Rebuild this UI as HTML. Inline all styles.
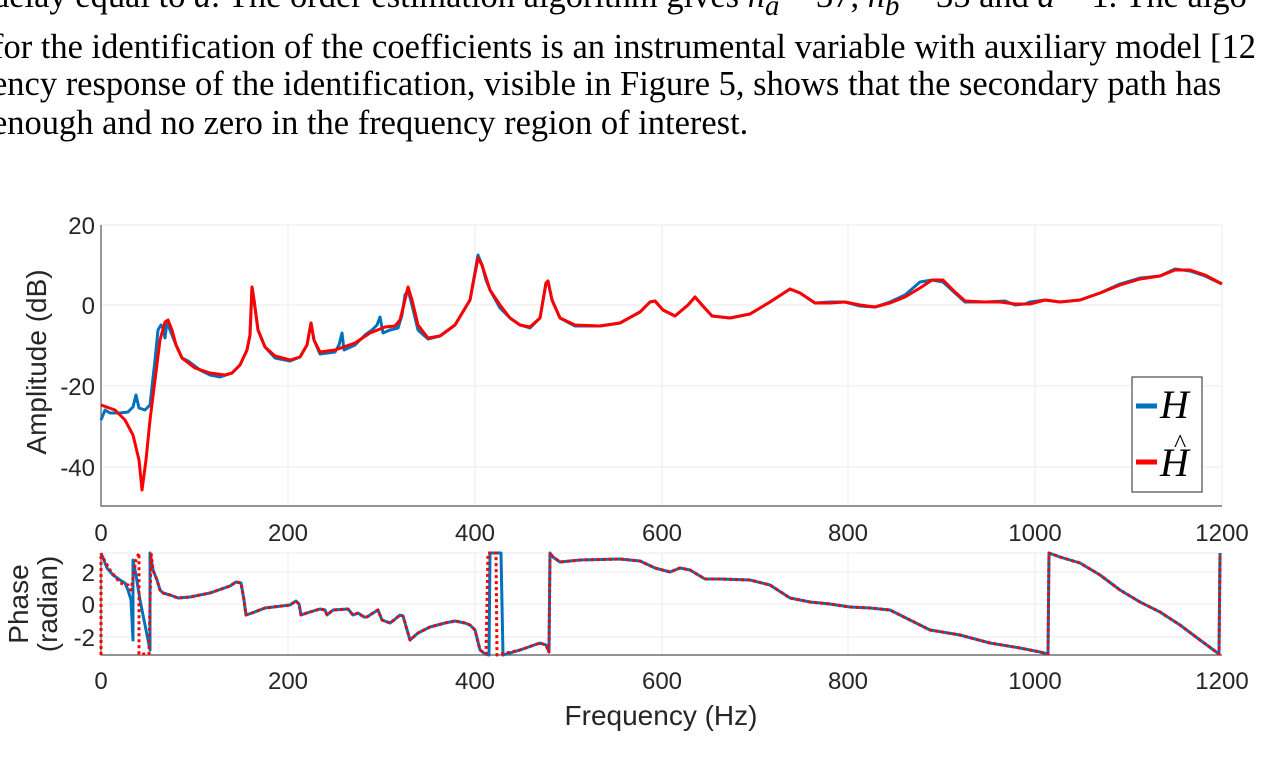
<!DOCTYPE html>
<html><head><meta charset="utf-8"><style>
html,body{margin:0;padding:0;background:#fff;width:1273px;height:757px;overflow:hidden;position:relative}
.t{position:absolute;left:-8px;font-family:"Liberation Serif",serif;font-size:35px;white-space:nowrap;color:#000;transform:scaleX(0.985);transform-origin:left}
</style></head><body>
<div class="t" style="top:-24px">delay equal to <i>d</i>. The order estimation algorithm gives <i>n<sub>a</sub></i> = 37, <i>n<sub>b</sub></i> = 35 and <i>d</i> = 1. The algo</div>
<div class="t" style="top:27px">for the identification of the coefficients is an instrumental variable with auxiliary model [12</div>
<div class="t" style="top:64px">ency response of the identification, visible in Figure 5, shows that the secondary path has</div>
<div class="t" style="top:103px">enough and no zero in the frequency region of interest.</div>
<svg width="1273" height="757" style="position:absolute;left:0;top:0" font-family="Liberation Sans, sans-serif" font-size="24" fill="#262626">
<g stroke="#ebebeb" stroke-width="1">
<line x1="101" y1="225" x2="1222" y2="225"/><line x1="101" y1="305" x2="1222" y2="305"/><line x1="101" y1="386" x2="1222" y2="386"/><line x1="101" y1="467" x2="1222" y2="467"/>
<line x1="288" y1="225" x2="288" y2="506"/><line x1="475" y1="225" x2="475" y2="506"/><line x1="662" y1="225" x2="662" y2="506"/><line x1="848" y1="225" x2="848" y2="506"/><line x1="1035" y1="225" x2="1035" y2="506"/><line x1="1222" y1="225" x2="1222" y2="506"/>
<line x1="101" y1="553" x2="1222" y2="553"/><line x1="101" y1="572" x2="1222" y2="572"/><line x1="101" y1="604" x2="1222" y2="604"/><line x1="101" y1="637" x2="1222" y2="637"/>
<line x1="288" y1="553" x2="288" y2="655"/><line x1="475" y1="553" x2="475" y2="655"/><line x1="662" y1="553" x2="662" y2="655"/><line x1="848" y1="553" x2="848" y2="655"/><line x1="1035" y1="553" x2="1035" y2="655"/><line x1="1222" y1="553" x2="1222" y2="655"/>
</g>
<g stroke="#555" stroke-width="1.2" fill="none">
<polyline points="101,225 101,506 1222,506"/>
<polyline points="101,553 101,655 1222,655"/>
</g>
<g text-anchor="end">
<text x="95" y="234">20</text><text x="95" y="314">0</text><text x="95" y="395">-20</text><text x="95" y="476">-40</text>
<text x="95" y="581">2</text><text x="95" y="613">0</text><text x="95" y="646">-2</text>
</g>
<g text-anchor="middle">
<text x="101" y="541">0</text><text x="288" y="541">200</text><text x="475" y="541">400</text><text x="662" y="541">600</text><text x="848" y="541">800</text><text x="1035" y="541">1000</text><text x="1222" y="541">1200</text>
<text x="101" y="689">0</text><text x="288" y="689">200</text><text x="475" y="689">400</text><text x="662" y="689">600</text><text x="848" y="689">800</text><text x="1035" y="689">1000</text><text x="1222" y="689">1200</text>
<text x="661" y="725" font-size="28">Frequency (Hz)</text>
<text transform="translate(46,362) rotate(-90)" font-size="28">Amplitude (dB)</text>
<text transform="translate(28,604) rotate(-90)" font-size="28">Phase</text>
<text transform="translate(57,604) rotate(-90)" font-size="28">(radian)</text>
</g>
<g fill="none" stroke-linejoin="round" stroke-width="3">
<polyline stroke="#0072bd" points="101,420 105,410 110,413 120,413 128,412 133,407 136,395 139,408 145,410 150,405 155,360 158,330 161,325 163,328 165,338 167,322 170,330 176,345 182,358 188,361 192,364 200,370 210,375 220,377 232,373 240,365 247,350 250,335 252,287 254,300 258,330 265,347 275,358 290,361 300,357 307,345 311,323 314,340 320,354 335,352 339,345 342,333 344,350 355,345 365,335 372,330 377,325 380,317 383,333 390,330 398,328 402,315 405,295 408,290 412,305 418,330 428,339 440,336 455,325 470,300 478,255 482,265 486,280 490,290 500,308 510,318 520,325 530,328 540,318 546,283 548,281 552,300 560,318 575,326 600,326 620,323 640,312 650,302 655,301 663,310 675,316 688,305 695,297 702,305 712,316 730,318 750,314 770,302 790,289 800,293 815,303 830,302 845,302 860,306 875,307 890,302 905,295 920,282 932,280 943,282 955,293 965,302 985,302 1005,301 1015,305 1025,304 1030,302 1045,300 1060,302 1080,300 1100,293 1120,284 1140,278 1160,276 1175,269 1190,271 1205,276 1222,284"/>
<polyline stroke="#ff0000" points="101,405 115,410 125,420 133,435 139,460 142,490 146,460 150,420 155,380 160,340 165,322 168,320 172,330 176,345 182,358 195,368 210,373 225,375 232,373 240,365 247,350 250,335 252,287 254,300 258,330 265,347 275,356 290,360 300,357 307,345 311,323 314,340 320,352 335,350 355,343 370,333 385,327 395,326 400,320 405,300 408,287 412,300 418,325 428,338 440,336 455,325 470,300 478,258 482,265 490,290 500,305 510,318 520,325 530,327 540,318 546,283 548,281 552,300 560,318 575,325 600,326 620,323 640,312 650,302 655,301 663,310 675,316 688,305 695,297 702,305 712,316 730,318 750,314 770,302 790,289 800,293 815,303 830,303 845,302 860,305 875,307 890,303 905,297 920,288 932,280 943,280 955,292 965,301 985,302 1000,302 1015,304 1030,304 1045,300 1060,302 1080,300 1100,293 1120,285 1140,279 1160,276 1175,270 1190,270 1205,275 1222,284"/>
<polyline stroke="#0072bd" points="101,553 107,568 113,575 120,580 125,583 128,590 131,600 133,640 133,560 136,575 140,600 145,625 150,650 150,553 153,570 157,580 160,590 163,593 170,595 178,598 190,597 210,593 230,586 236,582 241,583 244,600 246,615 252,613 265,608 290,605 296,601 299,604 301,615 310,612 320,609 325,610 327,615 333,610 348,609 353,615 358,613 364,617 367,617 373,613 378,610 382,620 390,623 394,620 400,615 403,616 410,640 418,633 430,627 445,623 455,621 465,623 470,625 475,630 480,650 485,654 489,655 490,553 494,553 501,553 503,655 520,650 540,643 546,645 549,652 550,553 553,557 560,562 580,560 620,559 640,561 655,568 670,572 680,568 690,570 705,579 720,579 750,580 770,585 790,598 810,602 830,604 850,607 870,608 890,610 910,620 930,630 960,635 990,643 1020,648 1040,652 1048,654 1049,553 1060,557 1080,563 1100,575 1120,590 1140,602 1160,612 1180,625 1200,640 1219,654 1220,553"/>
<polyline stroke="#ff0000" stroke-dasharray="3,3" points="101,655 101,553 102,556 110,570 120,583 128,585 131,590 136,560 139,553 139,654 149,654 151,553 153,570 157,580 160,590 163,593 170,595 178,598 190,597 210,593 230,586 236,582 241,583 244,600 246,615 252,613 265,608 290,605 296,601 299,604 301,615 310,612 320,609 325,610 327,615 333,610 348,609 353,615 358,613 364,617 367,617 373,613 378,610 382,620 390,623 394,620 400,615 403,616 410,640 418,633 430,627 445,623 455,621 465,623 470,625 475,630 480,650 486,654 488,553 496,553 497,655 520,650 540,643 546,645 549,652 550,553 553,557 560,562 580,560 620,559 640,561 655,568 670,572 680,568 690,570 705,579 720,579 750,580 770,585 790,598 810,602 830,604 850,607 870,608 890,610 910,620 930,630 960,635 990,643 1020,648 1040,652 1048,654 1049,553 1060,557 1080,563 1100,575 1120,590 1140,602 1160,612 1180,625 1200,640 1219,654 1220,553"/>
</g>
<rect x="1132" y="377" width="70" height="115" fill="#fff" stroke="#262626" stroke-width="1"/>
<line x1="1136" y1="406" x2="1157" y2="406" stroke="#0072bd" stroke-width="5"/>
<line x1="1136" y1="462" x2="1157" y2="462" stroke="#ff0000" stroke-width="5"/>
<g font-family="Liberation Serif, serif" font-style="italic" font-size="40" fill="#000">
<text x="1160" y="418">H</text>
<text x="1160" y="476">H</text>
<text x="1174" y="452" font-style="normal" font-size="26">^</text>
</g>
</svg>
</body></html>
